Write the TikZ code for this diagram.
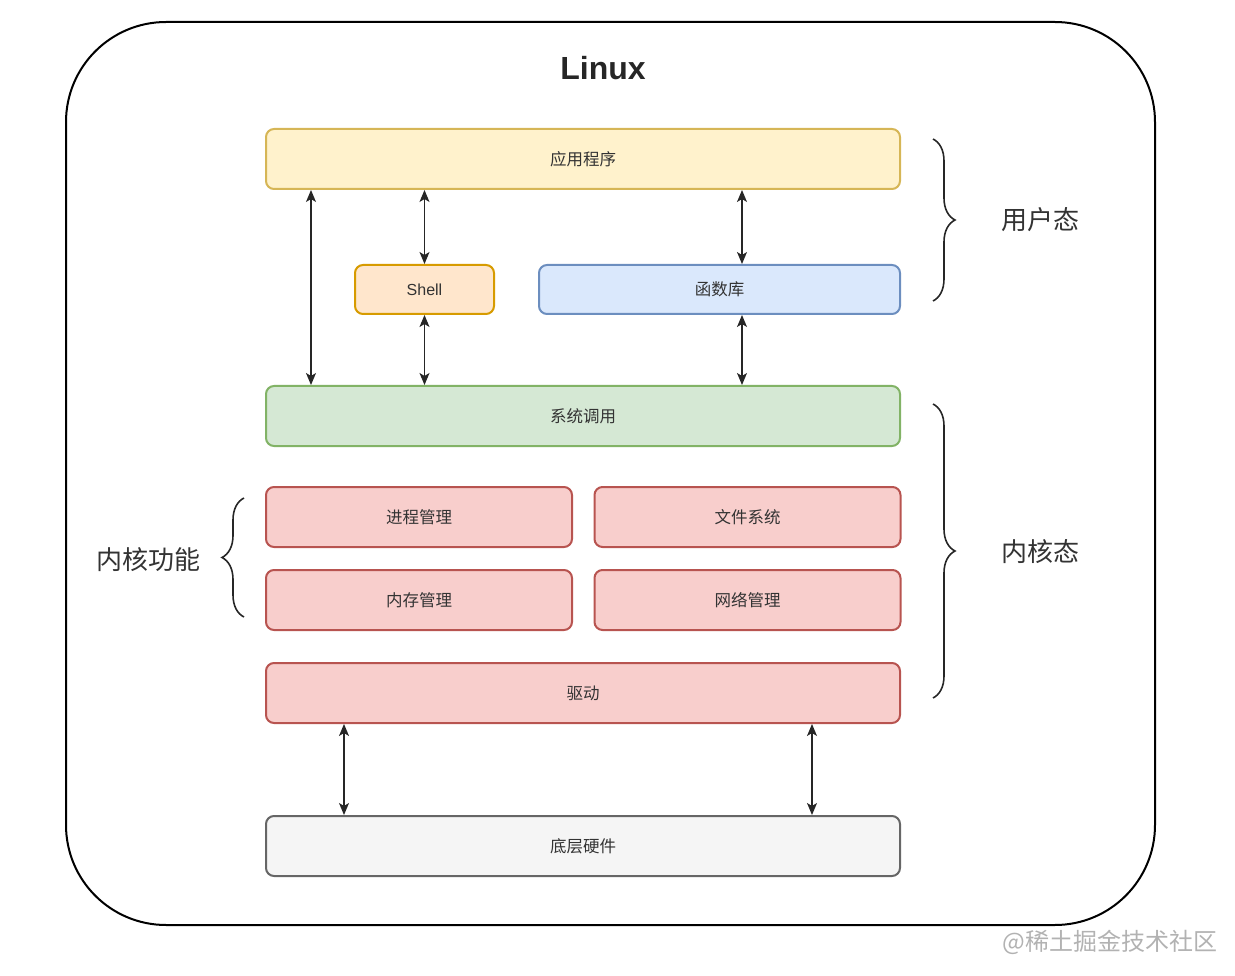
\documentclass[tikz,border=0pt]{standalone}
\usepackage{fontspec}
\setmainfont{Liberation Sans}
\newfontfamily\cjk{Noto Sans CJK SC}
\usetikzlibrary{arrows.meta,decorations.pathreplacing}

\definecolor{appfill}{HTML}{FFF2CC}\definecolor{appline}{HTML}{D6B656}
\definecolor{shfill}{HTML}{FFE6CC}\definecolor{shline}{HTML}{D79B00}
\definecolor{libfill}{HTML}{DAE8FC}\definecolor{libline}{HTML}{6C8EBF}
\definecolor{scfill}{HTML}{D5E8D4}\definecolor{scline}{HTML}{82B366}
\definecolor{kfill}{HTML}{F8CECC}\definecolor{kline}{HTML}{B85450}
\definecolor{hwfill}{HTML}{F5F5F5}\definecolor{hwline}{HTML}{666666}

\begin{document}
\begin{tikzpicture}
    [x=1pt,y=-1pt,>={Stealth[length=12pt,width=10pt,inset=3pt]},
     box/.style={draw,rounded corners=8pt,line width=2pt,font=\cjk\fontsize{16.5}{19}\selectfont,text=black!80},
     wide/.style={box,minimum width=634pt,minimum height=60pt},
     half/.style={box,minimum width=306pt,minimum height=60pt},
     tag/.style={font=\cjk\fontsize{26}{30}\selectfont,text=black!80},
     link/.style={<->,line width=1.3pt,black!85},
     curly/.style={decorate,decoration={brace,amplitude=22pt,aspect=0.5},line width=1.6pt,black!85}]

    \useasboundingbox (0,0) rectangle (1235,976);

    \draw[line width=2pt,rounded corners=100pt] (66,22) rectangle (1155,925);
    \node[font=\bfseries\fontsize{32}{36}\selectfont,text=black!85] (title) at (603,68) {Linux};

    \node[wide,fill=appfill,draw=appline] (app) at (583,159) {应用程序};
    \node[box,fill=shfill,draw=shline,minimum width=139pt,minimum height=49pt,font=\fontsize{16}{19}\selectfont] (shell) at (424.5,289.5) {Shell};
    \node[box,fill=libfill,draw=libline,minimum width=361pt,minimum height=49pt] (lib) at (719.5,289.5) {函数库};
    \node[wide,fill=scfill,draw=scline] (syscall) at (583,416) {系统调用};
    \node[half,fill=kfill,draw=kline] (proc) at (419,517) {进程管理};
    \node[half,fill=kfill,draw=kline] (fs) at (747.5,517) {文件系统};
    \node[half,fill=kfill,draw=kline] (mem) at (419,600) {内存管理};
    \node[half,fill=kfill,draw=kline] (net) at (747.5,600) {网络管理};
    \node[wide,fill=kfill,draw=kline] (drv) at (583,693) {驱动};
    \node[wide,fill=hwfill,draw=hwline] (hw) at (583,846) {底层硬件};

    % user space links
    \draw[link] ([xshift=46pt]app.south west) -- ([xshift=46pt]syscall.north west);
    \draw[link] (app.south -| shell) -- (shell.north);
    \draw[link] (shell.south) -- (syscall.north -| shell);
    \draw[link] ([xshift=22.5pt]app.south -| lib) -- ([xshift=22.5pt]lib.north);
    \draw[link] ([xshift=22.5pt]lib.south) -- ([xshift=22.5pt]syscall.north -| lib);

    % hardware links
    \draw[link] ([xshift=79pt]drv.south west) -- ([xshift=79pt]hw.north west);
    \draw[link] ([xshift=-89pt]drv.south east) -- ([xshift=-89pt]hw.north east);

    % braces
    \draw[curly] (933,139) -- (933,301);
    \node[tag] (user) at (1040,220) {用户态};
    \draw[curly] (933,404) -- (933,698);
    \node[tag] (kernel) at (1040,552) {内核态};
    \draw[curly] (244,617) -- (244,498);
    \node[tag] (kfunc) at (148,560) {内核功能};

    \node[font=\cjk\fontsize{24}{28}\selectfont,text=black!30] (mark) at (1110,942) {@稀土掘金技术社区};
\end{tikzpicture}
\end{document}
